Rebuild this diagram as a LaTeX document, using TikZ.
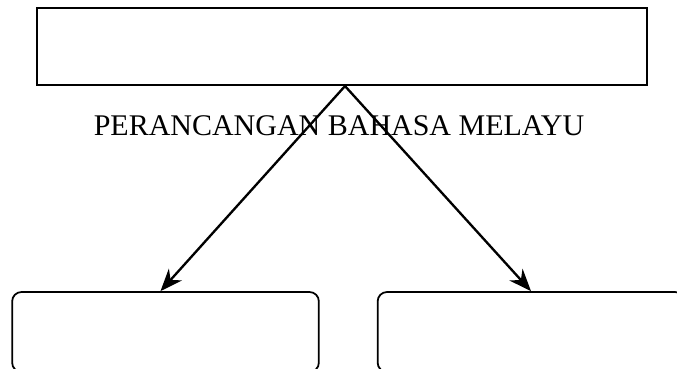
\documentclass[tikz,border=0pt]{standalone}
\usepackage{fontspec}
\setmainfont{Liberation Serif}
\usepackage{tikz}
\usetikzlibrary{arrows.meta,positioning,calc}

\tikzset{
  kotak/.style={draw, line width=1.8pt, minimum width=18.3cm, minimum height=2.31cm},
  kotakbulat/.style={draw, line width=1.5pt, rounded corners=0.28cm, minimum width=9.2cm, minimum height=2.4cm},
  panah/.style={-{Stealth[length=19pt,width=15pt]}, line width=2pt}
}

\begin{document}
\begin{tikzpicture}[x=0.03cm, y=-0.03cm]
    \useasboundingbox (0,0) rectangle (677,369);
    % basics
    \node[kotak] (judul) at (342,46.5) {};
    \node[kotakbulat] (kiri) at (165.5,332) {};
    \node[kotakbulat] (kanan) at (531,332) {};
    
    % text
    \node[anchor=base, inner sep=0pt, font=\fontsize{25.6pt}{30pt}\selectfont] (tajuk) at (339,136) {PERANCANGAN BAHASA MELAYU};
    
    % arrows
    \coordinate (puncak) at ($(judul.south)+(3,0)$);
    \draw[panah] (puncak) -- ($(kiri.north)+(-5,0)$);
    \draw[panah] (puncak) -- (kanan.north);
    
\end{tikzpicture}
\end{document}
